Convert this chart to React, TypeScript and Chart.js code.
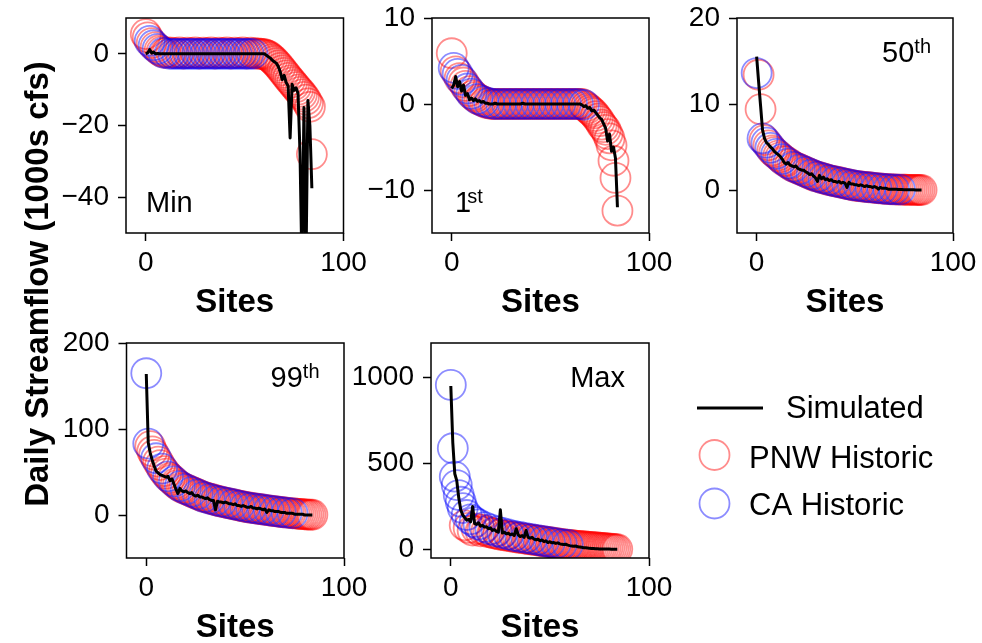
import React, { useEffect, useRef } from "react";
import { Chart, registerables } from "chart.js";

Chart.register(...registerables);

const FONT = "'Liberation Sans', Arial, Helvetica, sans-serif";
const W = 982;
const H = 643;

// ---------------- DATA (site index = position in array) ----------------
const xTicks = [0, 100];

// Min
const simMin = [
  0, 0.3, 1.2, 0.2, 0.5, 0, 0.1, 0, 0, 0,
  0, 0, 0, 0, 0, 0, 0, 0, 0, 0,
  0, 0, 0, 0, 0, 0, 0, 0, 0, 0,
  0, 0, 0, 0, 0, 0, 0, 0, 0, 0,
  0, 0, 0, 0, 0, 0, 0, 0, 0, 0,
  0, 0, 0, 0, 0, 0, 0, 0, 0, 0,
  0, -0.4, -0.8, -1.2, -1.8, -2.2, -2.6, -3.5, -5.0, -7.2,
  -6.0, -8.0, -9.0, -23.5, -8.5, -10.2, -9.5, -11.0, -27.5, -60,
  -15.0, -60, -13.0, -20.0, -37.5,
];
const obsMin = [
  5.5, 4.6, 3.6, 3.0, 2.4, 1.9, 1.4, 1.0, 0.6, 0.3,
  0.2, 0.4, 0, 0.3, 0, 0.2, 0, 0.4, 0, 0.1,
  0, 0.3, 0, 0.2, 0, 0.4, 0, 0.1, 0, 0.3,
  0, 0.2, 0, 0.4, 0, 0.1, 0, 0.3, 0, 0.2,
  0, 0.4, 0, 0.1, 0, 0.3, 0, 0.2, 0, 0.4,
  0, 0.1, 0, 0.3, 0, 0.2, 0, 0.1, 0, 0,
  -0.1, -0.3, -0.6, -1.0, -1.5, -2.0, -2.6, -3.2, -3.9, -4.6,
  -5.3, -6.0, -6.7, -7.4, -8.0, -8.7, -9.3, -10.0, -10.6, -11.3,
  -12.0, -12.8, -13.8, -14.8, -28.0,
];
const caSitesMin = [2, 4, 6, 9, 12, 14, 16, 18, 20, 22, 24, 26, 28, 30, 32, 34, 36, 38, 40, 42, 44, 46, 48, 50, 52, 54];
const yTicksMin = [-40, -20, 0];

// 1st percentile
const sim1st = [
  1.8, 2.2, 3.2, 2.0, 2.6, 1.5, 2.2, 1.0, 1.2, 0.5,
  0.7, 0.4, 0.6, 0.3, 0.4, 0.2, 0.3, 0.1, 0.1, 0,
  0, 0, 0.1, 0, 0, 0, 0, 0, 0, 0,
  0, 0, 0, 0, 0, 0, 0.1, 0, 0, 0,
  0, 0, 0, 0, 0, 0, 0, 0, 0, 0,
  0, 0, 0, 0, 0, 0, 0, 0, 0, 0,
  0, 0, 0, 0, 0, 0, -0.1, -0.3, -0.2, -0.5,
  -0.4, -0.8, -0.7, -1.0, -1.3, -1.6, -1.8, -2.3, -2.8, -4.3,
  -3.5, -5.5, -5.0, -6.3, -12.0,
];
const obs1st = [
  5.9, 4.2, 3.8, 3.5, 3.0, 2.8, 2.5, 2.1, 1.8, 1.5,
  1.2, 1.0, 0.8, 0.6, 0.5, 0.4, 0.3, 0.2, 0.1, 0.1,
  0, 0, 0, 0, 0, 0, 0, 0, 0, 0,
  0, 0, 0, 0, 0, 0, 0, 0, 0, 0,
  0, 0, 0, 0, 0, 0, 0, 0, 0, 0,
  0, 0, 0, 0, 0, 0, 0, 0, 0, 0,
  0, 0, 0, 0, 0, 0, 0, -0.1, -0.3, -0.5,
  -0.7, -0.9, -1.1, -1.4, -1.7, -2.0, -2.4, -2.7, -3.0, -3.5,
  -4.0, -4.8, -6.6, -8.6, -12.4,
];
const caSites1st = [1, 3, 5, 8, 10, 13, 16, 19, 22, 25, 28, 31, 34, 37, 40, 43, 46, 49, 52, 55, 58, 61, 64, 67];
const yTicks1st = [-10, 0, 10];

// 50th percentile
const sim50 = [
  15.5, 12.6, 9.8, 7.0, 6.0, 5.5, 5.3, 5.0, 4.8, 4.5,
  4.3, 4.1, 3.9, 3.6, 3.2, 3.0, 3.2, 2.9, 2.8, 2.7,
  2.8, 2.5, 2.4, 2.3, 2.3, 2.1, 2.0, 1.8, 1.9, 1.6,
  1.4, 1.0, 1.7, 1.3, 1.5, 1.2, 1.3, 1.1, 1.2, 1.0,
  1.0, 0.9, 1.0, 0.8, 0.9, 0.8, 0.3, 0.9, 0.7, 0.7,
  0.6, 0.6, 0.5, 0.6, 0.5, 0.4, 0.5, 0.4, 0.4, 0.3,
  0.4, 0.3, 0.1, 0.3, 0.2, 0.2, 0.2, 0.1, 0.1, 0.1,
  0.1, 0.1, 0.05, 0.05, 0.05, 0.04, 0.04, 0.03, 0.03, 0.02,
  0.02, 0.01, 0.01, 0, 0,
];
const obs50 = [
  13.6, 13.4, 9.4, 6.0, 5.8, 5.5, 5.2, 4.9, 4.6, 4.4,
  4.2, 4.0, 3.8, 3.6, 3.4, 3.3, 3.1, 3.0, 2.8, 2.7,
  2.6, 2.5, 2.4, 2.3, 2.2, 2.1, 2.0, 1.9, 1.8, 1.7,
  1.6, 1.55, 1.5, 1.4, 1.35, 1.3, 1.2, 1.15, 1.1, 1.05,
  1.0, 0.95, 0.9, 0.85, 0.8, 0.75, 0.7, 0.65, 0.6, 0.55,
  0.5, 0.48, 0.45, 0.42, 0.4, 0.37, 0.35, 0.32, 0.3, 0.28,
  0.25, 0.22, 0.2, 0.18, 0.16, 0.14, 0.12, 0.1, 0.09, 0.08,
  0.07, 0.06, 0.05, 0.05, 0.04, 0.03, 0.03, 0.02, 0.02, 0.02,
  0.01, 0.01, 0, 0, 0,
];
const caSites50 = [0, 3, 5, 7, 10, 13, 16, 19, 22, 25, 28, 31, 34, 37, 40, 43, 46, 49, 52, 55, 58, 61, 64, 67, 70, 73];
const yTicks50 = [0, 10, 20];

// 99th percentile
const sim99 = [
  164, 84, 72, 64, 57, 51, 49, 47, 46, 45,
  44, 45, 40, 42, 36, 30, 25, 31, 28, 27,
  28, 26, 25, 26, 23, 22, 23, 21, 21, 20,
  19, 20, 18, 17, 17, 6, 16, 15, 15, 14,
  15, 14, 13, 13, 12, 13, 11, 11, 10, 11,
  10, 9, 9, 10, 8, 8, 7, 8, 7, 6,
  7, 3, 6, 5, 5, 4, 4, 4, 3, 3,
  3, 2, 2, 2, 2, 1, 1, 1, 1, 1,
  0, 0, 0, 0, 0,
];
const obs99 = [
  164.8, 83, 80, 74, 70, 66, 62, 58, 54, 51,
  48, 45, 43, 41, 39, 37, 35, 33.5, 32, 31,
  30, 29, 28, 27, 26, 25, 24, 23, 22, 21,
  20.5, 20, 19, 18.5, 18, 17, 16.5, 16, 15.5, 15,
  14.5, 14, 13.5, 13, 12.5, 12, 11.5, 11, 10.5, 10,
  9.5, 9, 8.7, 8.4, 8, 7.7, 7.4, 7, 6.7, 6.4,
  6, 5.7, 5.4, 5, 4.7, 4.4, 4.1, 3.8, 3.5, 3.2,
  3.0, 2.7, 2.5, 2.2, 2.0, 1.8, 1.6, 1.4, 1.2, 1.0,
  0.8, 0.6, 0.5, 0.4, 0.3,
];
const caSites99 = [0, 1, 5, 8, 11, 14, 17, 20, 23, 26, 29, 32, 35, 38, 41, 44, 47, 50, 53, 56, 59, 62, 65, 68, 71, 74];
const yTicks99 = [0, 100, 200];

// Max
const simMax = [
  950, 620, 440, 400, 300, 230, 200, 185, 170, 175,
  160, 250, 150, 145, 155, 135, 140, 130, 132, 120,
  125, 110, 115, 105, 100, 230, 95, 100, 90, 95,
  85, 90, 80, 120, 85, 75, 80, 70, 110, 70,
  65, 70, 60, 55, 60, 50, 55, 45, 50, 40,
  45, 38, 40, 35, 38, 32, 30, 28, 30, 25,
  22, 20, 18, 20, 15, 14, 12, 10, 9, 8,
  6, 5, 5, 4, 4, 3, 3, 3, 2, 2,
  2, 1, 1, 1, 1,
];
const obsMax = [
  956, 588, 423, 374, 316, 277, 240, 140, 200, 125,
  175, 110, 158, 120, 145, 105, 115, 130, 108, 100,
  116, 96, 92, 105, 88, 85, 96, 82, 80, 87,
  76, 74, 78, 70, 68, 72, 65, 63, 66, 60,
  58, 60, 55, 53, 54, 50, 48, 48, 45, 43,
  42, 40, 38, 36, 35, 33, 31, 30, 28, 27,
  26, 24, 23, 22, 21, 20, 19, 18, 17, 16,
  15, 14, 13, 12, 11, 10, 9, 8, 7, 6,
  5, 4, 3, 2, 1,
];
const caSitesMax = [0, 1, 2, 3, 4, 5, 6, 8, 10, 12, 14, 17, 20, 23, 26, 29, 32, 35, 38, 41, 44, 47, 50, 53, 56, 59];
const yTicksMax = [0, 500, 1000];

// ---------------- STYLE / LAYOUT ----------------
const RED = "rgba(255,0,0,0.45)";
const BLUE = "rgba(0,0,255,0.45)";
const XH = 60;
const YW = 100;

type Spec = {
  sim: number[];
  obs: number[];
  ca: number[];
  yMin: number;
  yMax: number;
  yTicks: number[];
  label: string;
  sup: string;
  corner: "bl" | "tr";
  dx: number;
  supGap: number;
  box: [number, number, number, number];
};

const PANELS: Spec[] = [
  { sim: simMin, obs: obsMin, ca: caSitesMin, yMin: -50, yMax: 10, yTicks: yTicksMin, label: "Min", sup: "", corner: "bl", dx: 20, supGap: 0, box: [126, 18, 343.5, 233] },
  { sim: sim1st, obs: obs1st, ca: caSites1st, yMin: -15, yMax: 10, yTicks: yTicks1st, label: "1", sup: "st", corner: "bl", dx: 23, supGap: -4, box: [432, 18, 649, 233] },
  { sim: sim50, obs: obs50, ca: caSites50, yMin: -5, yMax: 20, yTicks: yTicks50, label: "50", sup: "th", corner: "tr", dx: 22, supGap: 0, box: [737, 18, 953, 233] },
  { sim: sim99, obs: obs99, ca: caSites99, yMin: -50, yMax: 200, yTicks: yTicks99, label: "99", sup: "th", corner: "tr", dx: 24.5, supGap: 0, box: [126.5, 343, 344, 558] },
  { sim: simMax, obs: obsMax, ca: caSitesMax, yMin: -50, yMax: 1200, yTicks: yTicksMax, label: "Max", sup: "", corner: "tr", dx: 24, supGap: 0, box: [431, 343, 649, 558] },
];

const fmt = (v: any) => {
  const n = Number(v);
  return n < 0 ? "\u2212" + Math.abs(n) : String(n);
};

function drawExtras(ctx: CanvasRenderingContext2D) {
  ctx.save();
  ctx.fillStyle = "#000";
  // y title
  ctx.font = `bold 33px ${FONT}`;
  ctx.textAlign = "center";
  ctx.textBaseline = "alphabetic";
  ctx.translate(48, 284);
  ctx.rotate(-Math.PI / 2);
  ctx.fillText("Daily Streamflow (1000s cfs)", 0, 0);
  ctx.restore();

  ctx.save();
  ctx.font = `31px ${FONT}`;
  ctx.textAlign = "left";
  ctx.textBaseline = "alphabetic";
  ctx.fillStyle = "#000";
  ctx.strokeStyle = "#000";
  ctx.lineWidth = 3;
  ctx.beginPath();
  ctx.moveTo(697, 408);
  ctx.lineTo(763, 408);
  ctx.stroke();
  ctx.fillText("Simulated", 786, 418);

  ctx.lineWidth = 1.8;
  ctx.strokeStyle = "rgba(255,0,0,0.45)";
  ctx.beginPath();
  ctx.arc(714.5, 455, 15, 0, Math.PI * 2);
  ctx.stroke();
  ctx.fillText("PNW Historic", 749, 468);

  ctx.strokeStyle = "rgba(0,0,255,0.45)";
  ctx.beginPath();
  ctx.arc(714.5, 503.5, 15, 0, Math.PI * 2);
  ctx.stroke();
  ctx.fillText("CA Historic", 749, 515);
  ctx.restore();
}

function makeConfig(p: Spec, extras: boolean): any {
  const [l, t, r, b] = p.box;
  const pnwPts: any[] = [];
  const caPts: any[] = [];
  p.obs.forEach((v, i) => {
    (p.ca.includes(i) ? caPts : pnwPts).push({ x: i, y: v });
  });
  const simPts = p.sim.map((v, i) => ({ x: i, y: v }));

  const tickFont = { family: FONT, size: 28 };

  const plugin = {
    id: "panelDecor",
    afterDatasetsDraw(chart: any) {
      const ctx = chart.ctx as CanvasRenderingContext2D;
      const ca = chart.chartArea;
      ctx.save();
      ctx.strokeStyle = "#000";
      ctx.lineWidth = 1.5;
      ctx.strokeRect(ca.left, ca.top, ca.right - ca.left, ca.bottom - ca.top);
      ctx.restore();
    },
    afterDraw(chart: any) {
      const ctx = chart.ctx as CanvasRenderingContext2D;
      const ca = chart.chartArea;
      ctx.save();
      ctx.fillStyle = "#000";
      ctx.textBaseline = "alphabetic";
      ctx.textAlign = "left";
      const mainFont = `29px ${FONT}`;
      const supFont = `20px ${FONT}`;
      ctx.font = mainFont;
      const w1 = ctx.measureText(p.label).width;
      ctx.font = supFont;
      const w2 = p.sup ? ctx.measureText(p.sup).width : 0;
      const total = w1 + (p.sup ? w2 + p.supGap : 0);
      let x: number;
      let y: number;
      if (p.corner === "bl") {
        x = ca.left + p.dx;
        y = ca.bottom - 21;
      } else {
        x = ca.right - p.dx - total;
        y = ca.top + 44;
      }
      ctx.font = mainFont;
      ctx.fillText(p.label, x, y);
      if (p.sup) {
        ctx.font = supFont;
        ctx.fillText(p.sup, x + w1 + p.supGap, y - 9);
      }
      // x title
      ctx.font = `bold 33px ${FONT}`;
      ctx.textAlign = "center";
      ctx.fillText("Sites", (ca.left + ca.right) / 2, ca.bottom + 79);
      ctx.restore();
      if (extras) drawExtras(ctx);
    },
  };

  return {
    type: "scatter",
    data: {
      datasets: [
        {
          label: "Simulated",
          data: simPts,
          showLine: true,
          borderColor: "#000",
          backgroundColor: "#000",
          borderWidth: 3,
          borderJoinStyle: "round",
          pointRadius: 0,
          tension: 0,
          clip: 0,
          order: 0,
        },
        {
          label: "CA Historic",
          data: caPts,
          showLine: false,
          pointRadius: 15,
          pointBorderWidth: 1.8,
          borderWidth: 1.8,
          borderColor: BLUE,
          pointBorderColor: BLUE,
          backgroundColor: "rgba(0,0,0,0)",
          pointBackgroundColor: "rgba(0,0,0,0)",
          clip: 0,
          order: 1,
        },
        {
          label: "PNW Historic",
          data: pnwPts,
          showLine: false,
          pointRadius: 15,
          pointBorderWidth: 1.8,
          borderWidth: 1.8,
          borderColor: RED,
          pointBorderColor: RED,
          backgroundColor: "rgba(0,0,0,0)",
          pointBackgroundColor: "rgba(0,0,0,0)",
          clip: 0,
          order: 2,
        },
      ],
    },
    options: {
      responsive: false,
      animation: false,
      devicePixelRatio: 1,
      events: [],
      layout: {
        padding: {
          left: l - YW,
          top: t,
          right: W - r,
          bottom: H - b - XH,
        },
      },
      plugins: {
        legend: { display: false },
        tooltip: { enabled: false },
        title: { display: false },
      },
      scales: {
        x: {
          type: "linear",
          position: "bottom",
          min: -10,
          max: 100,
          afterBuildTicks: (s: any) => {
            s.ticks = xTicks.map((v) => ({ value: v }));
          },
          afterFit: (s: any) => {
            s.height = XH;
            s.paddingLeft = 0;
            s.paddingRight = 0;
          },
          grid: {
            display: true,
            drawOnChartArea: false,
            drawTicks: true,
            tickLength: 8,
            tickWidth: 1.5,
            tickColor: "#000",
            color: "#000",
          },
          border: { display: false },
          ticks: {
            color: "#000",
            font: tickFont,
            padding: 5,
            maxRotation: 0,
            autoSkip: false,
            callback: fmt,
          },
        },
        y: {
          type: "linear",
          position: "left",
          min: p.yMin,
          max: p.yMax,
          afterBuildTicks: (s: any) => {
            s.ticks = p.yTicks.map((v) => ({ value: v }));
          },
          afterFit: (s: any) => {
            s.width = YW;
            s.paddingTop = 0;
            s.paddingBottom = 0;
          },
          grid: {
            display: true,
            drawOnChartArea: false,
            drawTicks: true,
            tickLength: 8,
            tickWidth: 1.5,
            tickColor: "#000",
            color: "#000",
          },
          border: { display: false },
          ticks: {
            color: "#000",
            font: tickFont,
            padding: 9,
            autoSkip: false,
            callback: fmt,
          },
        },
      },
    },
    plugins: [plugin],
  };
}

function Panel({ spec, extras }: { spec: Spec; extras: boolean }) {
  const ref = useRef<HTMLCanvasElement>(null);
  useEffect(() => {
    const chart = new Chart(ref.current as HTMLCanvasElement, makeConfig(spec, extras));
    return () => chart.destroy();
  }, []);
  return (
    <canvas
      ref={ref}
      width={W}
      height={H}
      style={{ position: "absolute", left: 0, top: 0, width: W, height: H }}
    />
  );
}

export default function App() {
  return (
    <div style={{ position: "absolute", left: 0, top: 0, width: W, height: H, background: "#fff", overflow: "hidden" }}>
      {PANELS.map((p, i) => (
        <Panel key={i} spec={p} extras={i === 0} />
      ))}
    </div>
  );
}
